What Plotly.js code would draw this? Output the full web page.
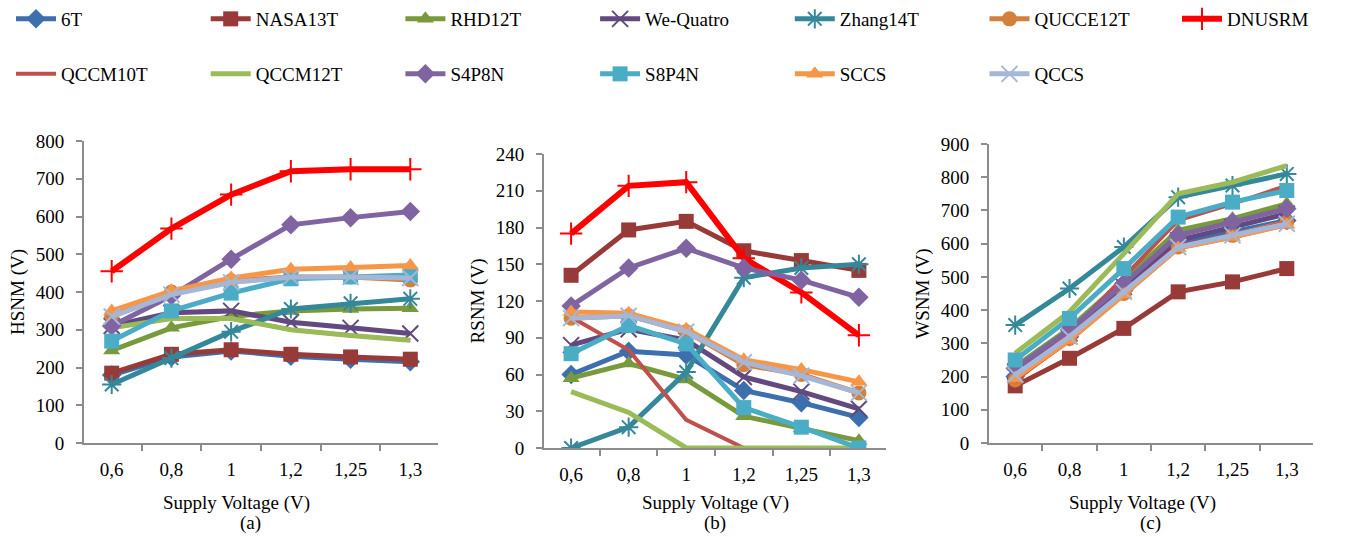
<!DOCTYPE html>
<html>
<head>
<meta charset="utf-8">
<script src="https://cdn.plot.ly/plotly-3.0.1.min.js"></script>
<style>
  html, body { margin: 0; padding: 0; background: #fff; }
  #chart { width: 1348px; height: 537px; }
</style>
</head>
<body>
<div id="chart"></div>
<script>
// ---- data ----
const categories = ["0,6", "0,8", "1", "1,2", "1,25", "1,3"];
const seriesNames = ["6T", "NASA13T", "RHD12T", "We-Quatro", "Zhang14T", "QUCCE12T", "DNUSRM",
                     "QCCM10T", "QCCM12T", "S4P8N", "S8P4N", "SCCS", "QCCS"];

// HSNM (panel a), one row per series in seriesNames order
const hsnmValues = [
  [180, 228, 244, 230, 222, 215],   // 6T
  [185, 235, 247, 235, 228, 222],   // NASA13T
  [245, 305, 335, 350, 355, 357],   // RHD12T
  [310, 345, 350, 320, 305, 290],   // We-Quatro
  [155, 225, 295, 355, 370, 382],   // Zhang14T
  [335, 400, 430, 440, 440, 432],   // QUCCE12T
  [455, 568, 658, 720, 725, 725],   // DNUSRM
  [305, 330, 330, 300, 285, 272],   // QCCM10T
  [305, 330, 330, 300, 285, 272],   // QCCM12T
  [310, 390, 487, 578, 597, 613],   // S4P8N
  [270, 350, 397, 435, 440, 445],   // S8P4N
  [350, 403, 437, 460, 465, 470],   // SCCS
  [335, 393, 425, 440, 440, 437]    // QCCS
];

// RSNM (panel b)
const rsnmValues = [
  [60, 79, 76, 47, 37, 25],         // 6T
  [141, 178, 185, 161, 153, 145],   // NASA13T
  [57, 69, 56, 26, 16, 6],          // RHD12T
  [84, 97, 88, 58, 46, 32],         // We-Quatro
  [0, 17, 62, 139, 147, 150],       // Zhang14T
  [106, 108, 95, 68, 60, 45],       // QUCCE12T
  [175, 214, 217, 155, 127, 92],    // DNUSRM
  [107, 80, 23, 0, 0, 0],           // QCCM10T
  [46, 29, 0, 0, 0, 0],             // QCCM12T
  [116, 147, 163, 147, 137, 123],   // S4P8N
  [77, 100, 85, 33, 17, 0],         // S8P4N
  [111, 110, 97, 72, 64, 54],       // SCCS
  [106, 108, 95, 70, 59, 45]        // QCCS
];

// WSNM (panel c)
const wsnmValues = [
  [200, 320, 460, 600, 635, 670],   // 6T
  [172, 255, 345, 455, 485, 525],   // NASA13T
  [230, 345, 490, 640, 675, 720],   // RHD12T
  [215, 330, 470, 610, 650, 690],   // We-Quatro
  [355, 465, 590, 740, 775, 810],   // Zhang14T
  [190, 315, 450, 590, 625, 665],   // QUCCE12T
  [195, 312, 450, 590, 622, 660],   // DNUSRM
  [185, 330, 500, 670, 720, 775],   // QCCM10T
  [270, 395, 570, 750, 785, 835],   // QCCM12T
  [225, 340, 480, 625, 665, 705],   // S4P8N
  [250, 375, 525, 680, 725, 760],   // S8P4N
  [195, 310, 447, 587, 620, 657],   // SCCS
  [205, 320, 455, 590, 625, 660]    // QCCS
];

// ---- styles ----
const colors = ["#3D6EAD", "#983A37", "#789A3D", "#62497F", "#34889A", "#D2803C", "#FF0000",
                "#C0504D", "#9BBB59", "#8064A2", "#4BACC6", "#F79646", "#A6B6D6"];
const symbols = ["diamond", "square", "triangle-up", "x-thin-open", "asterisk-open", "circle", "cross-thin-open",
                 null, null, "diamond", "square", "triangle-up", "x-thin-open"];
const lineWidths = [5, 5, 5, 5, 5, 5, 6, 4, 5, 5, 5, 5, 5];

const FONT = "Liberation Serif";
const traces = [];
const panels = [
  {vals: hsnmValues, xa: "x", ya: "y"},
  {vals: rsnmValues, xa: "x2", ya: "y2"},
  {vals: wsnmValues, xa: "x3", ya: "y3"}
];
panels.forEach((p, pi) => {
  seriesNames.forEach((name, i) => {
    const sym = symbols[i];
    const thin = sym && (sym.indexOf("thin") >= 0 || sym.indexOf("asterisk") >= 0);
    const t = {
      type: "scatter",
      x: categories,
      y: p.vals[i],
      name: name,
      xaxis: p.xa, yaxis: p.ya,
      mode: sym ? "lines+markers" : "lines",
      line: {color: colors[i], width: lineWidths[i]},
      legendgroup: name,
      showlegend: pi === 0,
      legend: i < 6 ? "legend" : (i === 6 ? "legend3" : "legend2"),
      hoverinfo: "skip"
    };
    if (sym) {
      // in panel (c) DNUSRM is hidden under the others, only small red dots show
      const small = (pi === 2 && name === "DNUSRM");
      t.marker = {symbol: small ? "circle" : sym, color: colors[i],
                  size: small ? 5 : (thin ? 16 : 15),
                  line: {color: colors[i], width: (thin && !small) ? 2 : 0}};
    }
    traces.push(t);
  });
});

function xaxis(domain, anchor) {
  return {
    domain: domain, anchor: anchor, type: "category",
    showline: true, linecolor: "#8c8c8c", linewidth: 2,
    ticks: "outside", ticklen: 6, tickcolor: "#8c8c8c", tickwidth: 2,
    tickson: "boundaries", showgrid: false, zeroline: false,
    tickfont: {family: FONT, size: 19, color: "#000"},
    ticklabelstandoff: 8, automargin: false
  };
}
function yaxis(domain, anchor, range, dtick, title) {
  return {
    domain: domain, anchor: anchor, range: range, dtick: dtick,
    showline: true, linecolor: "#8c8c8c", linewidth: 2,
    ticks: "outside", ticklen: 6, tickcolor: "#8c8c8c", tickwidth: 2,
    showgrid: false, zeroline: false,
    tickfont: {family: FONT, size: 19, color: "#000"},
    ticklabelstandoff: 8, automargin: false,
    title: {text: title, font: {family: FONT, size: 19, color: "#000"}, standoff: 6}
  };
}

const W = 1348, H = 537;
const legendBase = {
  orientation: "h", xanchor: "left", yanchor: "top",
  entrywidth: 139.7, entrywidthmode: "pixels", itemwidth: 40,
  font: {family: FONT, size: 19, color: "#000"},
  bgcolor: "rgba(0,0,0,0)",
  traceorder: "normal"
};
const layout = {
  width: W, height: H,
  margin: {l: 0, r: 0, t: 0, b: 0, autoexpand: false},
  paper_bgcolor: "#fff", plot_bgcolor: "#fff",
  xaxis:  xaxis([84 / W, 438 / W], "y"),
  yaxis:  yaxis([1 - 443 / H, 1 - 141 / H], "x", [0, 800], 100, "HSNM (V)"),
  xaxis2: xaxis([544 / W, 886 / W], "y2"),
  yaxis2: yaxis([1 - 448 / H, 1 - 154 / H], "x2", [0, 240], 30, "RSNM (V)"),
  xaxis3: xaxis([989 / W, 1313 / W], "y3"),
  yaxis3: yaxis([1 - 443 / H, 1 - 144 / H], "x3", [0, 900], 100, "WSNM (V)"),
  legend:  Object.assign({}, legendBase, {x: 11 / W, y: 1}),
  legend3: Object.assign({}, legendBase, {x: 1177 / W, y: 1, entrywidth: 100}),
  legend2: Object.assign({}, legendBase, {x: 11 / W, y: 1 - 55 / H}),
  annotations: [
    {text: "Supply Voltage (V)", x: 236 / W, y: 1 - 503 / H},
    {text: "(a)", x: 250 / W, y: 1 - 523 / H},
    {text: "Supply Voltage (V)", x: 715 / W, y: 1 - 503 / H},
    {text: "(b)", x: 715 / W, y: 1 - 523 / H},
    {text: "Supply Voltage (V)", x: 1142 / W, y: 1 - 503 / H},
    {text: "(c)", x: 1150 / W, y: 1 - 523 / H}
  ].map(a => Object.assign({xref: "paper", yref: "paper", xanchor: "center", yanchor: "middle",
                            showarrow: false, font: {family: FONT, size: 19, color: "#000"}}, a))
};

Plotly.newPlot("chart", traces, layout, {displayModeBar: false, staticPlot: true});
</script>
</body>
</html>
